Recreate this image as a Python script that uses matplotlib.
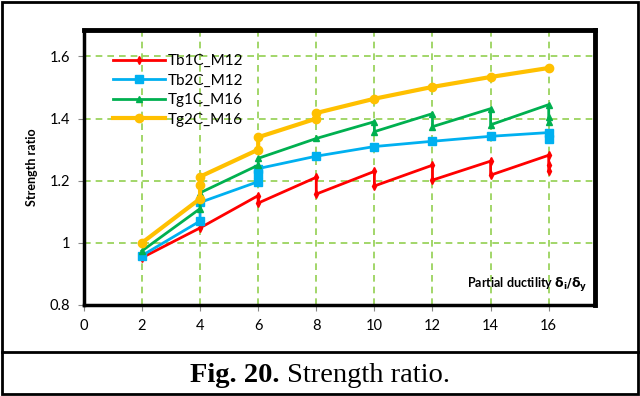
import matplotlib.pyplot as plt
from matplotlib.lines import Line2D
from matplotlib.patches import Rectangle

# Partial ductility steps (repeated x = several points at the same step)
x_tb1 = [2, 4, 6, 6, 8, 8, 10, 10, 12, 12, 14, 14, 16, 16, 16]
y_tb1 = [0.952, 1.048, 1.152, 1.128, 1.211, 1.157, 1.230, 1.183, 1.250, 1.202, 1.263, 1.218, 1.282, 1.250, 1.232]

x_tb2 = [2, 4, 4, 6, 6, 6, 8, 10, 12, 14, 16, 16]
y_tb2 = [0.959, 1.070, 1.130, 1.197, 1.220, 1.239, 1.279, 1.310, 1.327, 1.343, 1.355, 1.335]

x_tg1 = [2, 4, 4, 6, 6, 8, 10, 10, 12, 12, 14, 14, 16, 16, 16]
y_tg1 = [0.974, 1.110, 1.161, 1.250, 1.272, 1.336, 1.390, 1.358, 1.416, 1.374, 1.432, 1.380, 1.445, 1.406, 1.390]

x_tg2 = [2, 4, 4, 4, 6, 6, 8, 8, 10, 12, 14, 16]
y_tg2 = [1.000, 1.142, 1.187, 1.213, 1.300, 1.340, 1.400, 1.418, 1.464, 1.502, 1.534, 1.563]

names = ["Tb1C_M12", "Tb2C_M12", "Tg1C_M16", "Tg2C_M16"]
colors = ["#FF0000", "#00B0F0", "#00B050", "#FFC000"]
markers = ["d", "s", "^", "o"]

x_ticks = [0, 2, 4, 6, 8, 10, 12, 14, 16]
y_ticks = [0.8, 1.0, 1.2, 1.4, 1.6]

plt.rcParams['font.family'] = ['Lato', 'DejaVu Sans']

fig = plt.figure(figsize=(6.4, 3.96), dpi=100)
ax = fig.add_axes([0.131, 0.230, 0.799, 0.694])

series = [(x_tb1, y_tb1), (x_tb2, y_tb2), (x_tg1, y_tg1), (x_tg2, y_tg2)]
widths = [2, 2, 2, 3]
msizes = [4, 5.5, 4.5, 6]
for (xs, ys), name, c, m, lw, ms in zip(series, names, colors, markers, widths, msizes):
    ax.plot(xs, ys, color=c, marker=m, lw=lw, ms=ms, label=name)

ax.set_xlim(0, 17.6)
ax.set_ylim(0.8, 1.685)
ax.set_xticks(x_ticks)
ax.set_yticks(y_ticks)
ax.set_yticklabels(["0.8", "1", "1.2", "1.4", "1.6"])
ax.tick_params(labelsize=10.5, length=4, color="#888888", pad=6)
ax.grid(True, color="#92D050", ls=(0, (4, 3)), lw=1.2)
for s in ["top", "right"]:
    ax.spines[s].set_linewidth(3.5)
for s in ["left", "bottom"]:
    ax.spines[s].set_linewidth(2.5)

ax.set_ylabel("Strength ratio", fontweight="bold", fontsize=9, labelpad=8)
ax.text(0.985, 0.04, r"Partial ductility $\mathbf{\delta_i/\delta_y}$", transform=ax.transAxes,
        ha="right", va="bottom", fontsize=9, fontweight="bold")

leg = ax.legend(loc="upper left", bbox_to_anchor=(0.045, 0.935), frameon=False,
                fontsize=11, handlelength=3.4, handletextpad=0.2, labelspacing=0.36,
                borderaxespad=0)

# outer border and caption box
fig.add_artist(Rectangle((0.003, 0.005), 0.994, 0.99, transform=fig.transFigure,
                         fill=False, ec="black", lw=2))
fig.add_artist(Line2D([0.003, 0.997], [0.111, 0.111], transform=fig.transFigure, color="black", lw=2))

t1 = fig.text(0, 0.052, "Fig. 20.", ha="left", va="center", fontsize=20.5,
              family="Liberation Serif", fontweight="bold")
t2 = fig.text(0, 0.052, " Strength ratio.", ha="left", va="center", fontsize=20.5,
              family="Liberation Serif")
r = fig.canvas.get_renderer()
w1 = t1.get_window_extent(r).width
w2 = t2.get_window_extent(r).width
W = fig.bbox.width
x0 = (W - w1 - w2) / 2
t1.set_x(x0 / W)
t2.set_x((x0 + w1) / W)

fig.savefig("out.png", dpi=100)
